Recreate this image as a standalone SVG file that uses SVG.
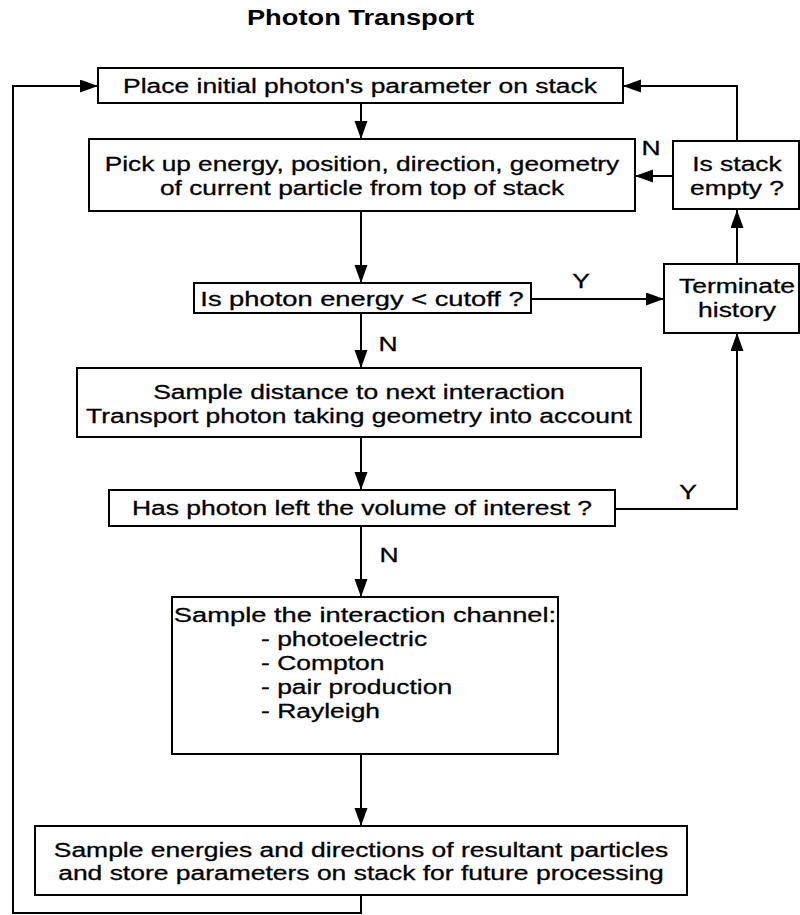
<svg xmlns="http://www.w3.org/2000/svg" width="800" height="915" viewBox="0 0 800 915">
  <style>
    .bg { fill: #ffffff; }
    .box { fill: #ffffff; stroke: #000000; stroke-width: 2; }
    .wire { fill: none; stroke: #000000; stroke-width: 2; }
    .t { font-family: "Liberation Sans", Arial, Helvetica, sans-serif; font-size: 21px; fill: #000000; stroke: #000000; stroke-width: 0.3; text-anchor: middle; }
    .l { text-anchor: start; }
    .title { font-family: "Liberation Sans", Arial, Helvetica, sans-serif; font-size: 22px; font-weight: bold; fill: #000000; text-anchor: middle; }
  </style>
  <defs>
    <marker id="arrow" markerUnits="userSpaceOnUse" markerWidth="20" markerHeight="14" refX="18" refY="6.5" orient="auto">
      <path d="M0,0 L18,6.5 L0,13 Z" fill="#000000"/>
    </marker>
  </defs>

  <rect class="bg" x="0" y="0" width="800" height="915"/>

  <text class="title" transform="translate(360.5 25) scale(1.24 1)">Photon Transport</text>

  <!-- connectors -->
  <g id="connectors">
    <!-- main downward flow -->
    <line class="wire" x1="361" y1="103" x2="361" y2="139" marker-end="url(#arrow)"/>
    <line class="wire" x1="361" y1="211" x2="361" y2="283" marker-end="url(#arrow)"/>
    <line class="wire" x1="361" y1="313" x2="361" y2="368" marker-end="url(#arrow)"/>
    <line class="wire" x1="361" y1="437" x2="361" y2="490" marker-end="url(#arrow)"/>
    <line class="wire" x1="361" y1="526" x2="361" y2="597" marker-end="url(#arrow)"/>
    <line class="wire" x1="361" y1="754" x2="361" y2="826" marker-end="url(#arrow)"/>
    <!-- loop back from last step to the start -->
    <polyline class="wire" points="361,895 361,913 13,913 13,86 98,86" marker-end="url(#arrow)"/>
    <!-- cutoff test: Y to terminate -->
    <line class="wire" x1="531" y1="299" x2="664" y2="299" marker-end="url(#arrow)"/>
    <!-- left volume: Y to terminate -->
    <polyline class="wire" points="615,509 737,509 737,333" marker-end="url(#arrow)"/>
    <!-- terminate to stack check -->
    <line class="wire" x1="737" y1="264" x2="737" y2="210" marker-end="url(#arrow)"/>
    <!-- stack empty: back to start -->
    <polyline class="wire" points="737,141 737,86 623,86" marker-end="url(#arrow)"/>
    <!-- stack not empty: N to pick up -->
    <line class="wire" x1="673" y1="176" x2="635" y2="176" marker-end="url(#arrow)"/>

    <text class="t" transform="translate(651 155) scale(1.26 1)">N</text>
    <text class="t" transform="translate(581 288) scale(1.26 1)">Y</text>
    <text class="t" transform="translate(388 351) scale(1.26 1)">N</text>
    <text class="t" transform="translate(688 499) scale(1.26 1)">Y</text>
    <text class="t" transform="translate(389 562) scale(1.26 1)">N</text>
  </g>

  <g id="place-initial">
    <rect class="box" x="98" y="68" width="525" height="35"/>
    <text class="t" transform="translate(360 93) scale(1.26 1)">Place initial photon's parameter on stack</text>
  </g>

  <g id="pick-up">
    <rect class="box" x="89" y="139" width="546" height="72"/>
    <text class="t" transform="translate(362 171) scale(1.25 1)">Pick up energy, position, direction, geometry</text>
    <text class="t" transform="translate(362 195) scale(1.25 1)">of current particle from top of stack</text>
  </g>

  <g id="stack-empty">
    <rect class="box" x="673" y="141" width="126" height="68"/>
    <text class="t" transform="translate(737 171) scale(1.26 1)">Is stack</text>
    <text class="t" transform="translate(737 195) scale(1.26 1)">empty ?</text>
  </g>

  <g id="energy-cutoff">
    <rect class="box" x="194" y="283" width="337" height="30"/>
    <text class="t" transform="translate(362 306) scale(1.3 1)">Is photon energy &lt; cutoff ?</text>
  </g>

  <g id="terminate">
    <rect class="box" x="664" y="264" width="135" height="69"/>
    <text class="t" transform="translate(737 293) scale(1.26 1)">Terminate</text>
    <text class="t" transform="translate(737 317) scale(1.26 1)">history</text>
  </g>

  <g id="transport">
    <rect class="box" x="77" y="368" width="564" height="69"/>
    <text class="t" transform="translate(359 399) scale(1.26 1)">Sample distance to next interaction</text>
    <text class="t" transform="translate(359 423) scale(1.26 1)">Transport photon taking geometry into account</text>
  </g>

  <g id="left-volume">
    <rect class="box" x="109" y="490" width="506" height="36"/>
    <text class="t" transform="translate(362 515) scale(1.26 1)">Has photon left the volume of interest ?</text>
  </g>

  <g id="interaction-channel">
    <rect class="box" x="172" y="597" width="386" height="157"/>
    <text class="t" transform="translate(365 622) scale(1.3 1)">Sample the interaction channel:</text>
    <text class="t l" transform="translate(261 646) scale(1.26 1)">- photoelectric</text>
    <text class="t l" transform="translate(261 670) scale(1.26 1)">- Compton</text>
    <text class="t l" transform="translate(261 694) scale(1.26 1)">- pair production</text>
    <text class="t l" transform="translate(261 718) scale(1.26 1)">- Rayleigh</text>
  </g>

  <g id="resultant-particles">
    <rect class="box" x="35" y="826" width="652" height="69"/>
    <text class="t" transform="translate(361 857) scale(1.26 1)">Sample energies and directions of resultant particles</text>
    <text class="t" transform="translate(361 880) scale(1.26 1)">and store parameters on stack for future processing</text>
  </g>
</svg>
